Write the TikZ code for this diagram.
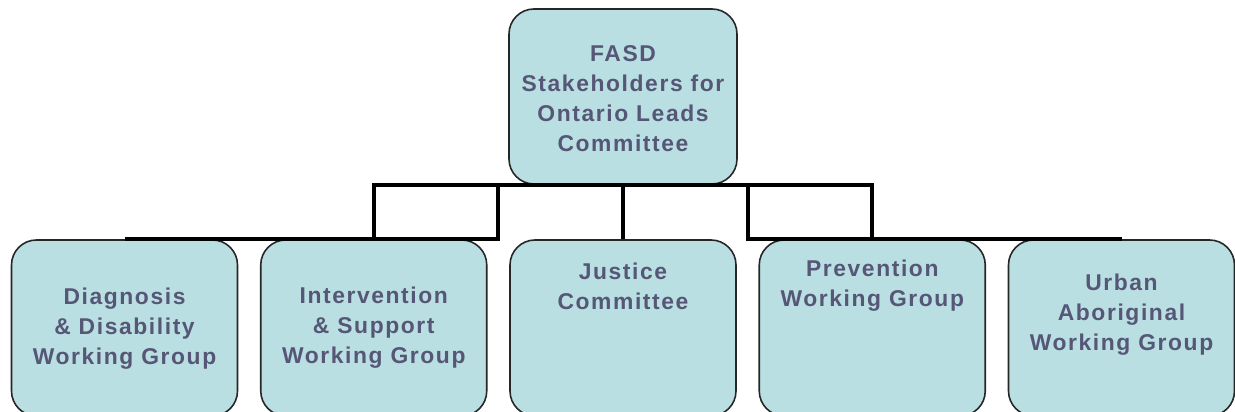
\documentclass[tikz,border=0pt]{standalone}
\usepackage{fontspec}
\newfontfamily\orgfont{Liberation Sans}[LetterSpace=7]
\usetikzlibrary{calc,positioning}
\definecolor{boxfill}{RGB}{185,223,226}
\definecolor{boxtext}{RGB}{86,86,118}

\begin{document}
\begin{tikzpicture}[
  panel/.style={draw=black!85, line width=0.9pt, fill=boxfill, rounded corners=0.5cm,
                minimum width=4.52cm, minimum height=3.52cm, inner sep=0pt},
  caption/.style={font=\orgfont\bfseries\fontsize{13}{17}\selectfont, text=boxtext,
                  align=center, inner sep=0pt},
  link/.style={line width=2.3pt, line join=miter},
]
  \clip (0,0) rectangle (24.7,8.24);
  \def\colsep{4.985}
  % Leads committee on top
  \node[panel, minimum width=4.56cm, minimum height=3.5cm] (root) at (12.46,6.31) {};
  \node[caption] (rootcap) at (12.46,6.27) {FASD\\Stakeholders for\\Ontario Leads\\Committee};
  % Working groups, bottom row (boxes run off the lower edge)
  \foreach \i/\ty/\txt in {0/1.66/{Diagnosis\\\& Disability\\Working Group},
                           1/1.68/{Intervention\\\& Support\\Working Group},
                           2/2.52/{Justice\\Committee},
                           3/2.53/{Prevention\\Working Group},
                           4/1.94/{Urban\\Aboriginal\\Working Group}} {
    \node[panel] (g\i) at ({2.49+\i*\colsep},1.68) {};
    \node[caption] (g\i cap) at ({2.49+\i*\colsep},\ty) {\txt};
  }
  % Elbows for the outer two groups
  \coordinate (kl) at ($(g1.north)!0.5!(g2.north)$);
  \coordinate (kr) at ($(g2.north)!0.5!(g3.north)$);
  % Connections
  \draw[link] (root.south) -| (kl) -- (g0.north);
  \draw[link] (root.south) -| (g1.north);
  \draw[link] (root.south) -- (g2.north);
  \draw[link] (root.south) -| (g3.north);
  \draw[link] (root.south) -| (kr) -- (g4.north);
\end{tikzpicture}
\end{document}
